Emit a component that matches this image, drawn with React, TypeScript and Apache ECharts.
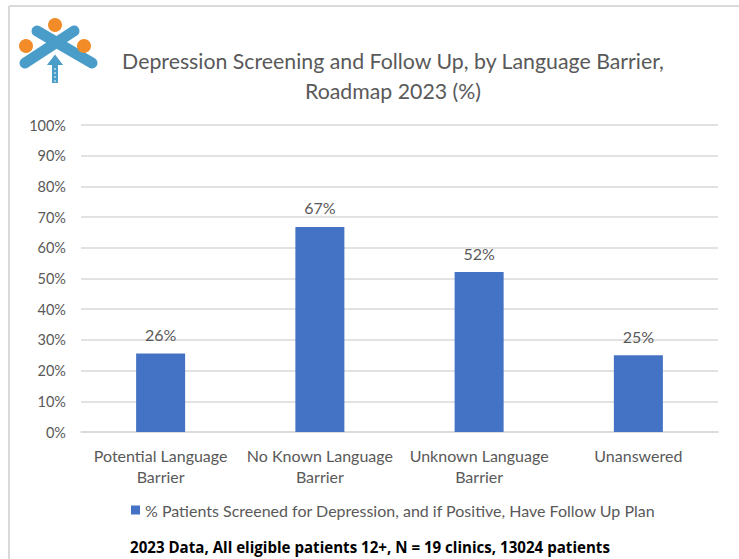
import React, { useEffect, useRef } from "react";
import * as echarts from "echarts";

const categories = [
  "Potential Language\nBarrier",
  "No Known Language\nBarrier",
  "Unknown Language\nBarrier",
  "Unanswered",
];
const values = [25.6, 66.8, 52.1, 25.0];
const seriesName = "% Patients Screened for Depression, and if Positive, Have Follow Up Plan";
const titleText = "Depression Screening and Follow Up, by Language Barrier,\nRoadmap 2023 (%)";
const footerText = "2023 Data, All eligible patients 12+, N = 19 clinics, 13024 patients";

const FONT = "Lato, 'Open Sans', sans-serif";
const GRAY = "#595959";
const BLUE = "#4472C4";

export default function App() {
  const ref = useRef<HTMLDivElement>(null);
  useEffect(() => {
    if (!ref.current) return;
    const chart = echarts.init(ref.current, null, { renderer: "svg" });
    const logoBlue = "#4a9cc9";
    const logoOrange = "#f28c28";
    chart.setOption({
      animation: false,
      backgroundColor: "#ffffff",
      title: {
        text: titleText,
        left: 388,
        textAlign: "center",
        top: 41,
        textStyle: {
          fontFamily: FONT,
          fontSize: 21.3,
          fontWeight: "normal",
          color: GRAY,
          lineHeight: 30,
        },
      },
      legend: {
        data: [seriesName],
        left: 126,
        top: 497,
        itemWidth: 9,
        itemHeight: 9,
        icon: "rect",
        itemGap: 5,
        textStyle: { fontFamily: FONT, fontSize: 16, color: GRAY },
      },
      grid: { left: 81, right: 21, top: 125, bottom: 127 },
      xAxis: {
        type: "category",
        data: categories,
        axisLine: { lineStyle: { color: "#d9d9d9", width: 1.5 } },
        axisTick: { show: false },
        axisLabel: {
          fontFamily: FONT,
          fontSize: 16,
          color: GRAY,
          margin: 13,
          lineHeight: 21,
          interval: 0,
        },
      },
      yAxis: {
        type: "value",
        min: 0,
        max: 100,
        interval: 10,
        axisLine: { show: false },
        axisTick: { show: false },
        splitLine: { lineStyle: { color: "#d9d9d9", width: 1.5 } },
        axisLabel: {
          fontFamily: FONT,
          fontSize: 14.5,
          color: GRAY,
          margin: 15,
          formatter: "{value}%",
        },
      },
      series: [
        {
          name: seriesName,
          type: "bar",
          data: values,
          barWidth: 49,
          itemStyle: { color: BLUE },
          label: {
            show: true,
            position: "top",
            distance: 11,
            fontFamily: FONT,
            fontSize: 16,
            color: GRAY,
            formatter: (p: any) => Math.round(p.value) + "%",
          },
        },
      ],
      graphic: [
        {
          type: "line",
          shape: { x1: 9, y1: 6, x2: 739, y2: 6 },
          style: { stroke: "#d9d9d9", lineWidth: 2 },
        },
        {
          type: "line",
          shape: { x1: 9, y1: 6, x2: 9, y2: 559 },
          style: { stroke: "#d9d9d9", lineWidth: 2 },
        },
        {
          type: "text",
          left: 130,
          top: 539,
          style: {
            text: footerText,
            fontFamily: "'Open Sans', sans-serif",
            fontSize: 15.1,
            fontWeight: "bold",
            fill: "#000000",
          },
        },
        {
          type: "group",
          children: [
            { type: "line", shape: { x1: 37, y1: 31, x2: 92, y2: 63 }, style: { stroke: logoBlue, lineWidth: 11, lineCap: "round" } },
            { type: "line", shape: { x1: 74, y1: 31, x2: 25, y2: 63 }, style: { stroke: logoBlue, lineWidth: 11, lineCap: "round" } },
            { type: "circle", shape: { cx: 55, cy: 25, r: 7 }, style: { fill: logoOrange } },
            { type: "circle", shape: { cx: 26, cy: 46, r: 7 }, style: { fill: logoOrange } },
            { type: "circle", shape: { cx: 84, cy: 46, r: 7 }, style: { fill: logoOrange } },
            {
              type: "polygon",
              shape: { points: [[55, 53], [65, 66], [59, 66], [59, 84], [51, 84], [51, 66], [45, 66]] },
              style: { fill: logoBlue, stroke: "#ffffff", lineWidth: 2 },
            },
            { type: "line", shape: { x1: 55, y1: 68, x2: 55, y2: 84 }, style: { stroke: "#ffffff", lineWidth: 1, lineDash: [2, 2] } },
          ],
        },
      ],
    });
    return () => chart.dispose();
  }, []);
  return (
    <div
      ref={ref}
      style={{ position: "fixed", left: 0, top: 0, width: 739, height: 559, background: "#fff" }}
    />
  );
}
